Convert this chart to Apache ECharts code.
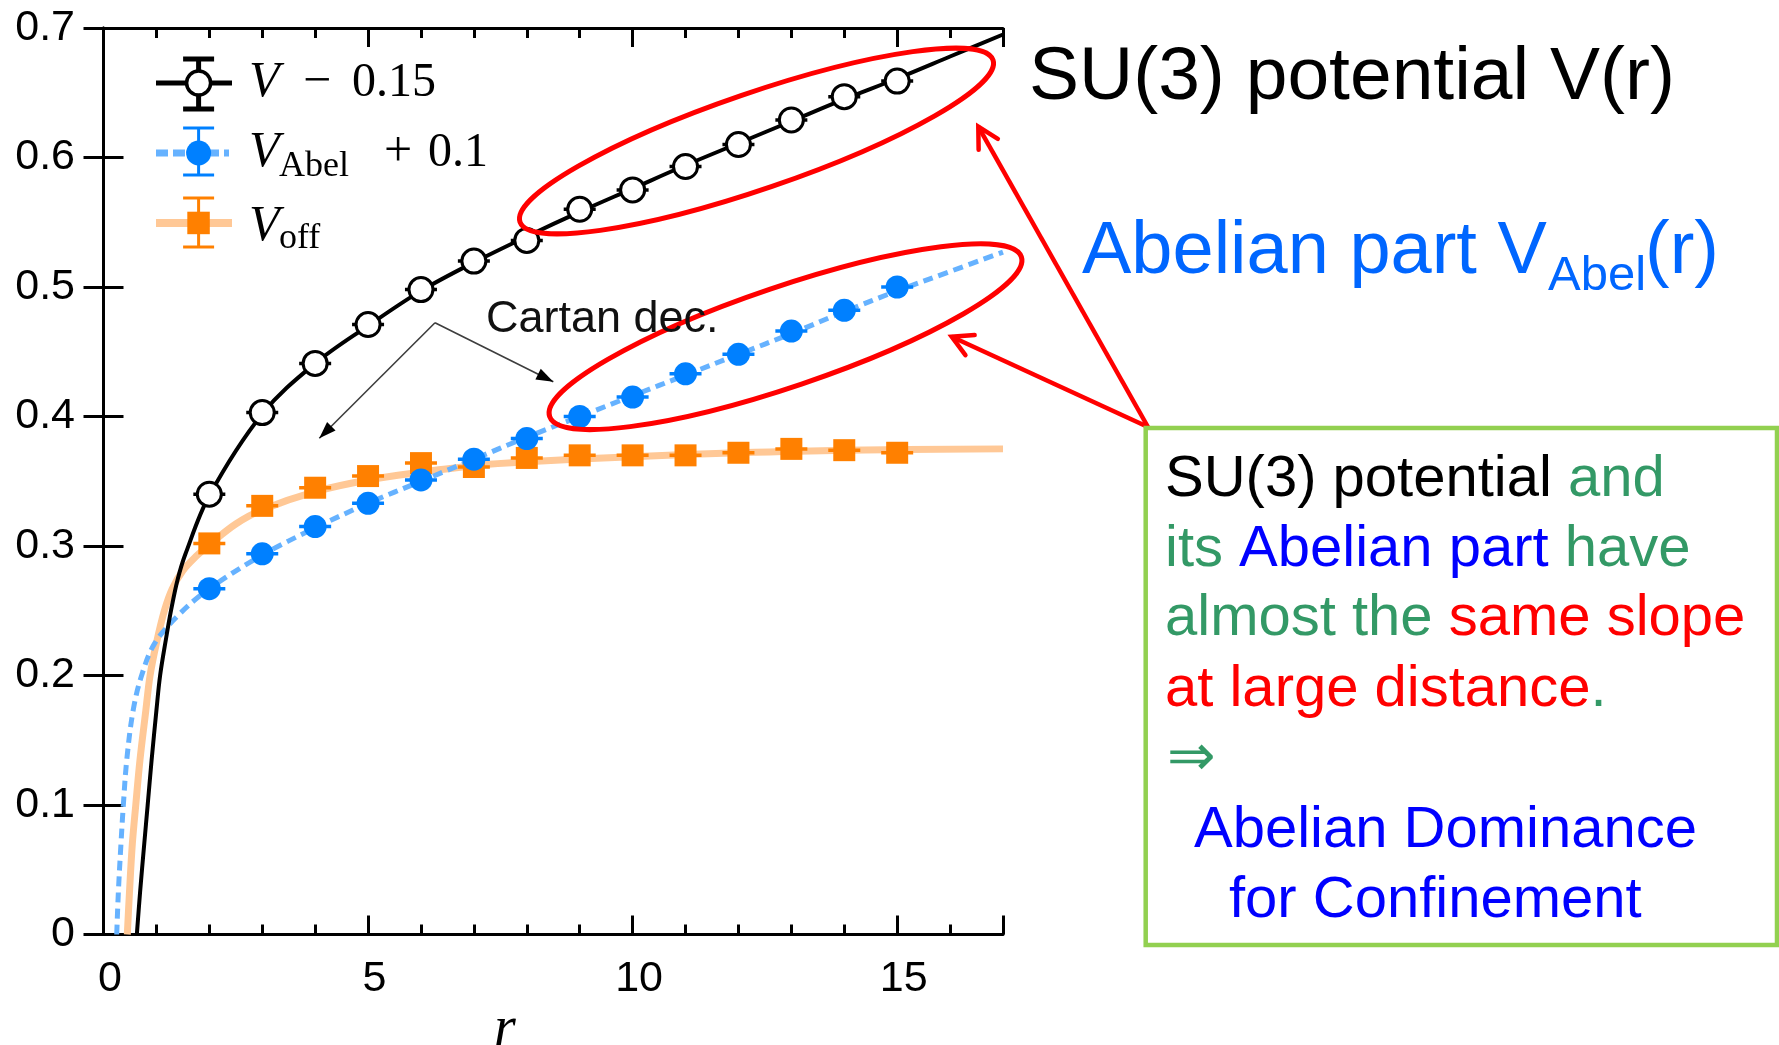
<!DOCTYPE html>
<html>
<head>
<meta charset="utf-8">
<title>SU(3) potential and its Abelian part</title>
<script src="https://cdn.jsdelivr.net/npm/echarts@6/dist/echarts.min.js"></script>
<style>
  html, body { margin: 0; padding: 0; background: #fff; }
  #chart { width: 1779px; height: 1045px; }
</style>
</head>
<body>
<div id="chart"></div>
<script>
// ---- data -------------------------------------------------------------
// Separation r (lattice units) of the measured points
const rValues = [2, 3, 4, 5, 6, 7, 8, 9, 10, 11, 12, 13, 14, 15];
// SU(3) static potential, shifted by -0.15
const vShifted = [0.340, 0.403, 0.441, 0.471, 0.498, 0.520, 0.536, 0.560, 0.575, 0.593, 0.610, 0.629, 0.647, 0.659];
// Abelian part of the potential, shifted by +0.1
const vAbelShifted = [0.267, 0.294, 0.315, 0.333, 0.351, 0.367, 0.383, 0.400, 0.415, 0.433, 0.448, 0.466, 0.482, 0.500];
// Off-diagonal part of the potential
const vOffValues = [0.302, 0.331, 0.345, 0.354, 0.364, 0.361, 0.368, 0.370, 0.370, 0.370, 0.372, 0.375, 0.374, 0.372];

// Fitted curves, sampled as [r, V]
const fitCurveV = [[0.63, 0], [0.69, 0.032], [0.77, 0.07], [0.835, 0.1], [0.91, 0.135], [1.0, 0.173], [1.07, 0.2],
  [1.18, 0.228], [1.28, 0.251], [1.4, 0.274], [1.55, 0.294], [2, 0.339], [3, 0.402], [4, 0.441], [5, 0.470],
  [6, 0.497], [7, 0.519], [8, 0.539], [9, 0.558], [10, 0.576], [11, 0.594], [12, 0.611], [13, 0.628], [14, 0.645],
  [15, 0.661], [16, 0.678], [17, 0.695]];
const fitCurveAbel = [[0.25, 0], [0.28, 0.032], [0.33, 0.07], [0.375, 0.1], [0.44, 0.135], [0.56, 0.173], [0.72, 0.2],
  [0.97, 0.225], [1.45, 0.248], [2, 0.267], [3, 0.293], [4, 0.314], [5, 0.333], [6, 0.350], [7, 0.367], [8, 0.384],
  [9, 0.400], [10, 0.416], [11, 0.432], [12, 0.448], [13, 0.464], [14, 0.481], [15, 0.497], [16, 0.512], [17, 0.527]];
const fitCurveOff = [[0.45, 0], [0.49, 0.032], [0.545, 0.07], [0.61, 0.1], [0.69, 0.135], [0.8, 0.173], [0.88, 0.2],
  [1.0, 0.225], [1.15, 0.25], [1.3, 0.267], [1.5, 0.281], [1.75, 0.292], [2, 0.301], [2.5, 0.317], [3, 0.328],
  [4, 0.342], [5, 0.351], [6, 0.357], [7, 0.362], [8, 0.365], [10, 0.369], [12, 0.372], [14, 0.374], [17, 0.375]];

// Axis ranges and tick steps
const rRange = [0, 17];
const vRange = [0, 0.7];
const rMajorStep = 5;
const rMinorStep = 1;
const vStep = 0.1;

// ---- styling ------------------------------------------------------------
const SANS = '"Liberation Sans", Arial, Helvetica, sans-serif';
const SERIF = '"Liberation Serif", "Times New Roman", serif';
const ARROW_FONT = '"DejaVu Sans", "Liberation Sans", sans-serif';
const C_BLACK = '#000000';
const C_ABEL = '#0080FF';
const C_ABEL_LINE = '#66B2FF';
const C_OFF = '#FF8000';
const C_OFF_LINE = '#FFC896';
const C_RED = '#FF0000';
const C_GREEN = '#339966';
const C_BLUE = '#0000FF';
const C_TITLE_BLUE = '#0066FF';
const C_BOX = '#92D050';

// distance from the canvas "middle" baseline to the alphabetic baseline, per px of font size
const MID_TO_BASE = 0.27;

const pairs = (ys) => rValues.map((r, i) => [r, ys[i]]);

// ---- graphic helpers ------------------------------------------------------
function txt(x, baseline, text, size, color, family, extra) {
  return {
    type: 'text', x: x, y: baseline - MID_TO_BASE * size, z: 60, silent: true,
    style: Object.assign({
      text: text, fill: color, fontSize: size, fontFamily: family,
      align: 'left', verticalAlign: 'middle'
    }, extra || {})
  };
}
function richTxt(x, baseline, size, parts) {
  const colors = { k: C_BLACK, g: C_GREEN, b: C_BLUE, r: C_RED };
  const rich = {};
  Object.keys(colors).forEach(k => {
    rich[k] = { fill: colors[k], fontSize: size, fontFamily: SANS };
  });
  return {
    type: 'text', x: x, y: baseline - MID_TO_BASE * size, z: 60, silent: true,
    style: {
      text: parts.map(p => '{' + p[0] + '|' + p[1] + '}').join(''),
      fontSize: size, fontFamily: SANS, align: 'left', verticalAlign: 'middle', rich: rich
    }
  };
}
function seg(x1, y1, x2, y2, color, w, dash) {
  return {
    type: 'line', z: 55, silent: true,
    shape: { x1: x1, y1: y1, x2: x2, y2: y2 },
    style: { stroke: color, lineWidth: w, lineDash: dash || null, lineCap: 'butt' }
  };
}
function openArrow(fx, fy, tx, ty, color, w, len, spread) {
  const a = Math.atan2(fy - ty, fx - tx);
  const p1 = [tx + len * Math.cos(a + spread), ty + len * Math.sin(a + spread)];
  const p2 = [tx + len * Math.cos(a - spread), ty + len * Math.sin(a - spread)];
  return [
    seg(fx, fy, tx, ty, color, w),
    { type: 'polyline', z: 56, silent: true, shape: { points: [p1, [tx, ty], p2] },
      style: { stroke: color, lineWidth: w, fill: 'none', lineJoin: 'miter', lineCap: 'round' } }
  ];
}
function solidHead(fx, fy, tx, ty, color, len, half) {
  const a = Math.atan2(fy - ty, fx - tx);
  const bx = tx + len * Math.cos(a), by = ty + len * Math.sin(a);
  const nx = -Math.sin(a) * half, ny = Math.cos(a) * half;
  return { type: 'polygon', z: 56, silent: true,
    shape: { points: [[tx, ty], [bx + nx, by + ny], [bx - nx, by - ny]] },
    style: { fill: color } };
}
function ring(cx, cy, rx, ry, deg) {
  return { type: 'ellipse', z: 57, silent: true, x: cx, y: cy, rotation: deg * Math.PI / 180,
    shape: { cx: 0, cy: 0, rx: rx, ry: ry },
    style: { fill: 'none', stroke: C_RED, lineWidth: 5 } };
}
function errorBar(x, y1, y2, capHalf, color, w) {
  return [
    seg(x, y1, x, y2, color, w),
    seg(x - capHalf, y1, x + capHalf, y1, color, w),
    seg(x - capHalf, y2, x + capHalf, y2, color, w)
  ];
}

// ---- legend (drawn in the upper-left corner of the frame) -------------------
const legendX = 198.6;
const legendItems = [].concat(
  // V - 0.15
  [seg(156, 83, 232, 83, C_BLACK, 5)],
  errorBar(legendX, 59, 109, 15.5, C_BLACK, 5),
  [{ type: 'circle', z: 58, silent: true, shape: { cx: legendX, cy: 83, r: 12 },
     style: { fill: '#fff', stroke: C_BLACK, lineWidth: 3.5 } }],
  [txt(249, 96.7, 'V', 50, C_BLACK, SERIF, { fontStyle: 'italic' }),
   txt(303, 96.7, '\u2212', 50, C_BLACK, SERIF),
   txt(352, 96.7, '0.15', 48, C_BLACK, SERIF)],
  // V_Abel + 0.1
  [seg(156, 153, 229, 153, C_ABEL_LINE, 7, [12, 5])],
  errorBar(legendX, 128, 175, 15.5, C_ABEL, 3),
  [{ type: 'circle', z: 58, silent: true, shape: { cx: legendX, cy: 153, r: 12.5 },
     style: { fill: C_ABEL } }],
  [txt(249, 166.7, 'V', 50, C_BLACK, SERIF, { fontStyle: 'italic' }),
   txt(279, 176, 'Abel', 36, C_BLACK, SERIF),
   txt(384, 166.7, '+', 50, C_BLACK, SERIF),
   txt(428, 166.7, '0.1', 48, C_BLACK, SERIF)],
  // V_off
  [seg(156, 223, 232, 223, C_OFF_LINE, 8)],
  errorBar(legendX, 198, 247, 15.5, C_OFF, 3),
  [{ type: 'rect', z: 58, silent: true, shape: { x: legendX - 11.3, y: 211.7, width: 22.5, height: 22.5 },
     style: { fill: C_OFF } }],
  [txt(249, 240, 'V', 50, C_BLACK, SERIF, { fontStyle: 'italic' }),
   txt(279, 248.3, 'off', 36, C_BLACK, SERIF)]
);

// ---- annotations ---------------------------------------------------------------
const cartanVertex = [435, 322.7];
const cartanTips = [[319.3, 438.3], [553.3, 381.7]];
const cartan = [
  txt(486, 331.7, 'Cartan dec.', 45, '#111111', SANS),
  seg(cartanVertex[0], cartanVertex[1], cartanTips[0][0], cartanTips[0][1], '#3d3d3d', 1.6),
  seg(cartanVertex[0], cartanVertex[1], cartanTips[1][0], cartanTips[1][1], '#3d3d3d', 1.6),
  solidHead(cartanVertex[0], cartanVertex[1], cartanTips[0][0], cartanTips[0][1], '#000', 17, 6),
  solidHead(cartanVertex[0], cartanVertex[1], cartanTips[1][0], cartanTips[1][1], '#000', 17, 6)
];

const boxCorner = [1148, 427];
const callouts = [].concat(
  [ring(756.5, 141, 250, 48, 18.9), ring(785.5, 336.7, 249, 50, 18.7)],
  openArrow(boxCorner[0], boxCorner[1], 978.3, 126.7, C_RED, 4.5, 23, 0.5),
  openArrow(boxCorner[0], boxCorner[1], 951.7, 336.7, C_RED, 4.5, 23, 0.5)
);

const headings = [
  txt(1029, 98.3, 'SU(3) potential V(r)', 75, C_BLACK, SANS),
  txt(1082, 272.7, 'Abelian part V', 74, C_TITLE_BLUE, SANS),
  txt(1548, 290, 'Abel', 49, C_TITLE_BLUE, SANS),
  txt(1645, 272.7, '(r)', 74, C_TITLE_BLUE, SANS)
];

const box = [
  { type: 'rect', z: 55, silent: true, shape: { x: 1145.7, y: 428, width: 631.3, height: 517 },
    style: { fill: 'none', stroke: C_BOX, lineWidth: 4.5 } },
  richTxt(1165, 495.7, 58, [['k', 'SU(3) potential '], ['g', 'and']]),
  richTxt(1165, 565.4, 58, [['g', 'its '], ['b', 'Abelian part'], ['g', ' have']]),
  richTxt(1165, 635.0, 58, [['g', 'almost the '], ['r', 'same slope']]),
  richTxt(1165, 705.7, 58, [['r', 'at large distance'], ['g', '.']]),
  txt(1167, 776, '\u21D2', 58, C_GREEN, ARROW_FONT),
  richTxt(1194, 846.4, 58, [['b', 'Abelian Dominance']]),
  richTxt(1229, 916.4, 58, [['b', 'for Confinement']])
];

const axisName = [txt(494, 1045, 'r', 56, C_BLACK, SERIF, { fontStyle: 'italic' })];

// ---- axes -------------------------------------------------------------------------
const frameLine = { show: true, lineStyle: { color: C_BLACK, width: 3 } };
function xAx(position, step, tickLen, showLine, showLabel) {
  return {
    type: 'value', position: position, min: rRange[0], max: rRange[1], interval: step,
    axisLine: showLine ? frameLine : { show: false },
    axisTick: { show: true, inside: true, length: tickLen, lineStyle: { color: C_BLACK, width: 3 } },
    axisLabel: showLabel ? {
      show: true, fontSize: 43, fontFamily: SANS, color: C_BLACK, margin: 23, padding: [0, 0, 0, 13],
      formatter: v => (Math.abs(v % rMajorStep) < 1e-9 && v < rRange[1]) ? String(v) : ''
    } : { show: false },
    splitLine: { show: false }
  };
}
function yAx(position, showLabel) {
  return {
    type: 'value', position: position, min: vRange[0], max: vRange[1], interval: vStep,
    axisLine: frameLine,
    axisTick: { show: true, inside: true, length: 20, lineStyle: { color: C_BLACK, width: 3 } },
    axisLabel: showLabel ? {
      show: true, fontSize: 43, fontFamily: SANS, color: C_BLACK, margin: 28.5,
      formatter: v => (Math.abs(v) < 1e-9 ? '0' : v.toFixed(1))
    } : { show: false },
    splitLine: { show: false }
  };
}

// ---- series ------------------------------------------------------------------------
function fitLine(data, color, width, dash, z) {
  return {
    type: 'line', data: data, xAxisIndex: 0, yAxisIndex: 0, showSymbol: false, symbol: 'none',
    smooth: 0.35, z: z, silent: true,
    lineStyle: { color: color, width: width, type: dash || 'solid', cap: 'butt' }
  };
}
function caps(ys, color, z) {
  return {
    type: 'scatter', data: pairs(ys), xAxisIndex: 0, yAxisIndex: 0, symbol: 'rect',
    symbolSize: [32, 3.5], z: z, silent: true, itemStyle: { color: color, opacity: 1 }
  };
}

const option = {
  animation: false,
  backgroundColor: '#ffffff',
  grid: { left: 103.5, right: 776, top: 28, bottom: 110.5, containLabel: false },
  xAxis: [
    xAx('bottom', rMinorStep, 10, true, true),
    xAx('bottom', rMajorStep, 19, false, false),
    xAx('top', rMinorStep, 10, true, false),
    xAx('top', rMajorStep, 19, false, false)
  ],
  yAxis: [yAx('left', true), yAx('right', false)],
  series: [
    fitLine(fitCurveOff, C_OFF_LINE, 7, null, 2),
    fitLine(fitCurveAbel, C_ABEL_LINE, 5, [10, 6], 3),
    fitLine(fitCurveV, C_BLACK, 4, null, 4),
    caps(vOffValues, C_OFF, 5),
    { type: 'scatter', name: 'V_off', data: pairs(vOffValues), symbol: 'rect', symbolSize: 22,
      z: 6, silent: true, itemStyle: { color: C_OFF, opacity: 1 } },
    caps(vAbelShifted, C_ABEL, 7),
    { type: 'scatter', name: 'V_Abel + 0.1', data: pairs(vAbelShifted), symbol: 'circle', symbolSize: 23,
      z: 8, silent: true, itemStyle: { color: C_ABEL, opacity: 1 } },
    caps(vShifted, C_BLACK, 9),
    { type: 'scatter', name: 'V - 0.15', data: pairs(vShifted), symbol: 'circle', symbolSize: 24,
      z: 10, silent: true, itemStyle: { color: '#ffffff', borderColor: C_BLACK, borderWidth: 3, opacity: 1 } }
  ],
  graphic: { elements: [].concat(legendItems, cartan, callouts, headings, box, axisName) }
};

const chart = echarts.init(document.getElementById('chart'), null, { renderer: 'canvas' });
chart.setOption(option);
</script>
</body>
</html>
